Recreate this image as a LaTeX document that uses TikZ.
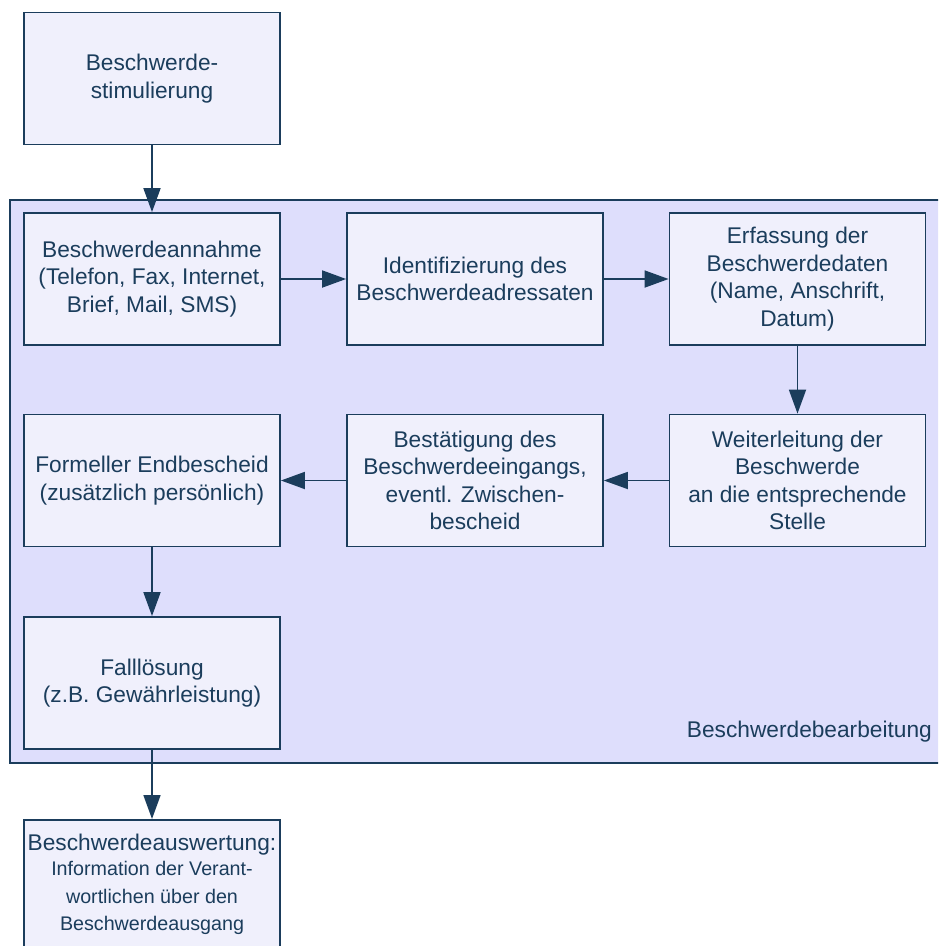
\documentclass[tikz,border=0pt]{standalone}
\usepackage{fontspec}
\setmainfont{Liberation Sans}
\usetikzlibrary{arrows.meta}

\definecolor{ink}{HTML}{1B3D5C}
\definecolor{boxfill}{HTML}{F0F0FC}
\definecolor{poolfill}{HTML}{DEDEFC}

\newcommand\mainsize{\fontsize{22.7}{27.5}\selectfont}
\newcommand\notesize{\fontsize{19.7}{25}\selectfont}

\begin{document}
\begin{tikzpicture}[x=1pt,y=-1pt,
  stepbox/.style={draw=ink, fill=boxfill, line width=1.8pt,
    minimum width=256pt, minimum height=132pt, inner sep=0pt,
    align=center, text=ink, font=\mainsize},
  pool/.style={draw=ink, fill=poolfill, line width=1.8pt, inner sep=0pt},
  flow/.style={draw=ink, line width=1.8pt, -{Triangle[length=24pt,width=17pt]}}]

\useasboundingbox (0,0) rectangle (938,946);
\clip (0,0) rectangle (938,946);

% swimlane for the processing stage
\node[pool, minimum width=940pt, minimum height=563pt] (proc) at (480,481.5) {};
\node[anchor=base east, text=ink, font=\mainsize, inner sep=0pt] (proclabel)
  at (932,737) {Beschwerdebearbeitung};

% process steps
\node[stepbox] (stim) at (152,78.5) {Beschwerde-\\stimulierung};
\node[stepbox] (annahme) at (152,279) {Beschwerdeannahme\\(Telefon, Fax, Internet,\\Brief, Mail, SMS)};
\node[stepbox] (ident) at (475,279) {Identifizierung des\\Beschwerdeadressaten};
\node[stepbox] (erfass) at (797.5,279) {Erfassung der\\Beschwerdedaten\\(Name, Anschrift,\\Datum)};
\node[stepbox] (weiter) at (797.5,480.5) {Weiterleitung der\\Beschwerde\\an die entsprechende\\Stelle};
\node[stepbox] (bestaet) at (475,480.5) {Bestätigung des\\Beschwerdeeingangs,\\eventl. Zwischen-\\bescheid};
\node[stepbox] (endbesch) at (152,480.5) {Formeller Endbescheid\\(zusätzlich persönlich)};
\node[stepbox] (loesung) at (152,683) {Falllösung\\(z.B. Gewährleistung)};
\node[stepbox, anchor=north] (auswert) at (152,819)
  {\rule{0pt}{0pt}\\[-14pt]Beschwerdeauswertung:\\[-2pt]
   \notesize Information der Verant-\\\notesize wortlichen über den\\\notesize Beschwerdeausgang};

% connectors
\draw[flow] (stim) -- (annahme);
\draw[flow] (annahme) -- (ident);
\draw[flow] (ident) -- (erfass);
\draw[flow] (erfass) -- (weiter);
\draw[flow] (weiter) -- (bestaet);
\draw[flow] (bestaet) -- (endbesch);
\draw[flow] (endbesch) -- (loesung);
\draw[flow] (loesung) -- (auswert);
\end{tikzpicture}
\end{document}
